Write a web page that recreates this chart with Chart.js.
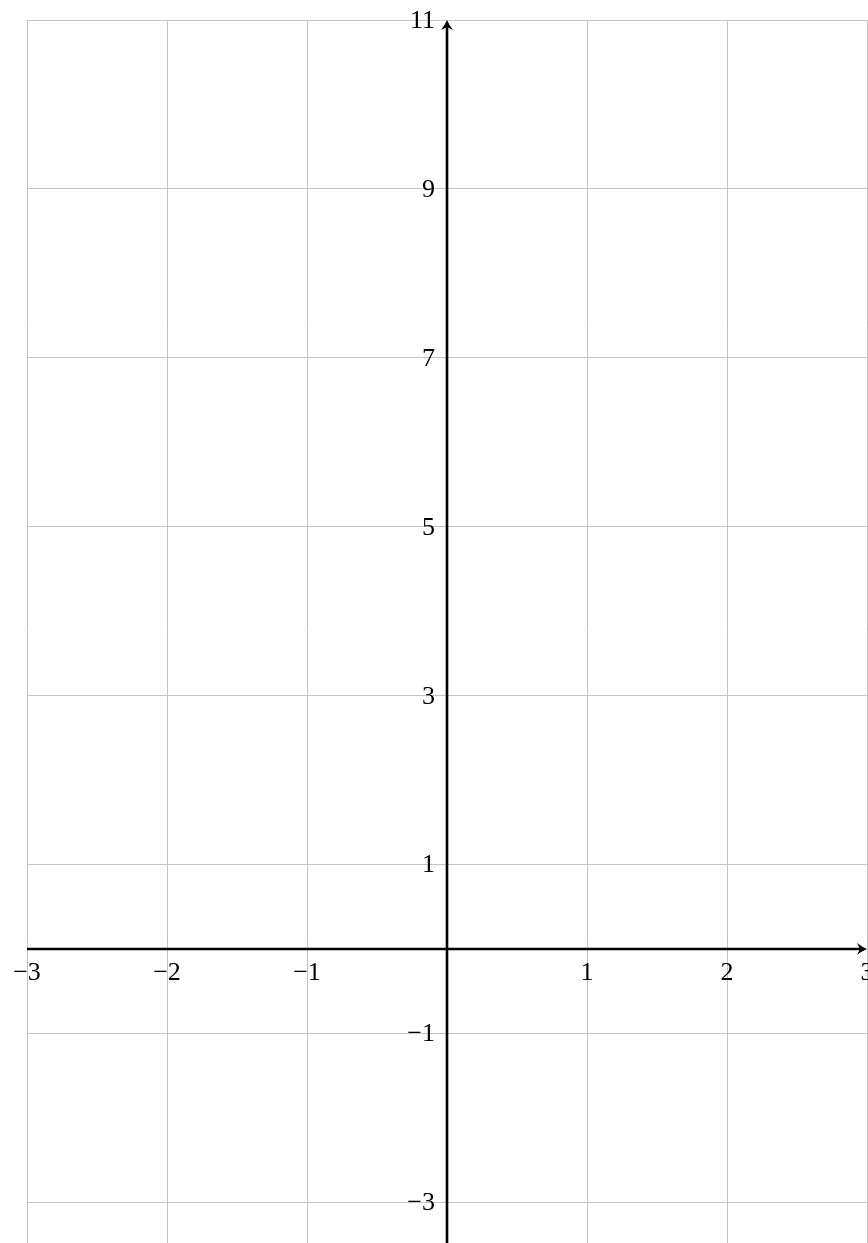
<!DOCTYPE html>
<html>
<head>
<meta charset="utf-8">
<script src="https://cdn.jsdelivr.net/npm/chart.js@4"></script>
<style>
  body { margin: 0; background: #fff; }
  .wrap { width: 868px; height: 1243px; position: relative; }
</style>
</head>
<body>
<div class="wrap"><canvas id="grid"></canvas></div>
<script>
// axis ranges and tick labels
const xRange = [-3, 3];
const yRange = [-3.48, 11];
const xTicks = [-3, -2, -1, 1, 2, 3];
const yTicks = [-3, -1, 1, 3, 5, 7, 9, 11];
// no plotted series in this picture
const seriesPoints = [];

const labelFont = '26px "Liberation Serif", "DejaVu Serif", serif';

function fmt(v) {
    return v < 0 ? '\u2212' + Math.abs(v) : String(v);
}

function arrowHead(ctx, x, y, dir) {
    // dir: 'right' or 'up'
    ctx.save();
    ctx.translate(x, y);
    if (dir === 'up') ctx.rotate(-Math.PI / 2);
    ctx.beginPath();
    ctx.moveTo(0, 0);
    ctx.quadraticCurveTo(-5, -2, -10, -6);
    ctx.lineTo(-7, 0);
    ctx.lineTo(-10, 6);
    ctx.quadraticCurveTo(-5, 2, 0, 0);
    ctx.closePath();
    ctx.fill();
    ctx.restore();
}

const axesPlugin = {
    id: 'axesPlugin',
    afterDraw(chart) {
        const ctx = chart.ctx;
        const xs = chart.scales.x;
        const ys = chart.scales.y;
        const area = chart.chartArea;
        const x0 = xs.getPixelForValue(0);
        const y0 = ys.getPixelForValue(0);

        ctx.save();
        ctx.strokeStyle = '#000';
        ctx.fillStyle = '#000';
        ctx.lineWidth = 2.6;

        // x axis
        ctx.beginPath();
        ctx.moveTo(area.left, y0);
        ctx.lineTo(area.right - 3, y0);
        ctx.stroke();
        arrowHead(ctx, area.right, y0, 'right');

        // y axis
        ctx.beginPath();
        ctx.moveTo(x0, chart.height);
        ctx.lineTo(x0, area.top + 3);
        ctx.stroke();
        arrowHead(ctx, x0, area.top, 'up');

        // tick labels
        ctx.font = labelFont;
        ctx.textAlign = 'center';
        ctx.textBaseline = 'middle';
        xTicks.forEach(v => {
            ctx.fillText(fmt(v), xs.getPixelForValue(v), y0 + 24);
        });
        ctx.textAlign = 'right';
        yTicks.forEach(v => {
            ctx.fillText(fmt(v), x0 - 12, ys.getPixelForValue(v) + 1);
        });
        ctx.restore();
    }
};

const ctxGrid = document.getElementById('grid');

new Chart(ctxGrid, {
    type: 'scatter',
    data: {
        datasets: [{
            data: seriesPoints,
            pointRadius: 0
        }]
    },
    options: {
        responsive: true,
        maintainAspectRatio: false,
        animation: false,
        layout: {
            padding: { left: 27, top: 20, right: 1, bottom: 0 }
        },
        plugins: {
            legend: { display: false },
            tooltip: { enabled: false }
        },
        scales: {
            x: {
                type: 'linear',
                min: xRange[0],
                max: xRange[1],
                ticks: { display: false, stepSize: 1 },
                border: { display: false },
                grid: { color: '#c4c4c4', lineWidth: 1, drawTicks: false }
            },
            y: {
                type: 'linear',
                min: yRange[0],
                max: yRange[1],
                afterBuildTicks(scale) {
                    scale.ticks = yTicks.map(v => ({ value: v }));
                },
                ticks: { display: false },
                border: { display: false },
                grid: { color: '#c4c4c4', lineWidth: 1, drawTicks: false }
            }
        }
    },
    plugins: [axesPlugin]
});
</script>
</body>
</html>
